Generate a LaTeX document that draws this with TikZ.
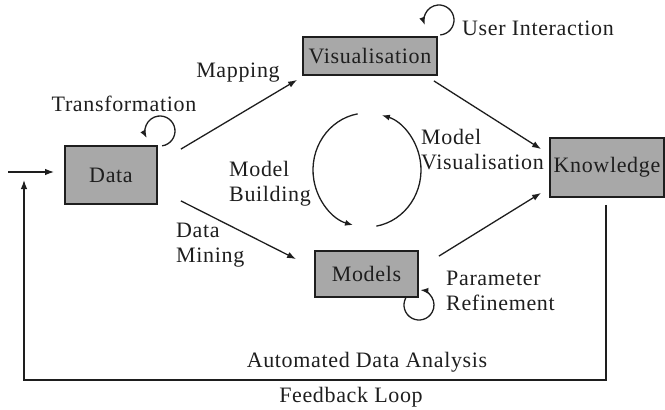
\documentclass[tikz,border=0pt]{standalone}
\usepackage{fontspec}
\setmainfont[LetterSpace=3]{Liberation Serif}
\usetikzlibrary{arrows.meta,calc}
\definecolor{boxfill}{RGB}{168,168,168}
\definecolor{ink}{RGB}{30,30,30}
\begin{document}
\begin{tikzpicture}[x=1pt,y=-1pt,
  every node/.style={font=\fontsize{22}{25}\selectfont, text=ink},
  stage/.style={draw=ink, line width=1.8pt, fill=boxfill, inner sep=0pt},
  lbl/.style={inner sep=0pt, align=left},
  arr/.style={draw=ink, line width=1.3pt, -{Latex[length=9pt,width=6.5pt]}},
  loop/.style={draw=ink, line width=1.3pt, -{Latex[length=8pt,width=6pt]}}]
\useasboundingbox (0,0) rectangle (665,410);

% process stages
\node[stage, minimum width=92pt, minimum height=58pt] (data) at (111,175) {Data};
\node[stage, minimum width=134pt, minimum height=38pt] (vis) at (370,56) {Visualisation};
\node[stage, minimum width=114pt, minimum height=59pt] (know) at (607,167.5) {Knowledge};
\node[stage, minimum width=103pt, minimum height=46pt] (models) at (366.5,274) {Models};

% main transitions
\draw[arr] ([xshift=23pt,yshift=-4pt]data.north east) -- ([xshift=-5pt,yshift=-4pt]vis.south west);
\draw[arr] ([xshift=-4pt,yshift=-5pt]vis.south east) -- ([xshift=-8pt,yshift=-12pt]know.north west);
\draw[arr] ([xshift=23pt,yshift=4pt]data.south east) -- ([xshift=-18pt,yshift=-9pt]models.north west);
\draw[arr] ([xshift=20pt,yshift=-6pt]models.north east) -- ([xshift=-8pt,yshift=5pt]know.south west);

% input and feedback loop
\coordinate (in0) at (8,172);
\draw[arr] (in0) -- ([xshift=-10pt,yshift=3pt]data.west);
\coordinate (fbc) at (24,380);
\coordinate (fbtip) at (24,180);
\draw[arr] ([xshift=-1pt,yshift=-7pt]know.south) |- (fbc) -- (fbtip);

% self loops
\coordinate (tl) at (160,131);
\draw[loop] (tl) ++(-82:15pt) arc[start angle=-82, end angle=208, radius=15pt];
\coordinate (ul) at (439,20);
\draw[loop] (ul) ++(-85:15pt) arc[start angle=-85, end angle=200, radius=15pt];
\coordinate (pl) at (419,305);
\draw[loop] (pl) ++(-208:15pt) arc[start angle=-208, end angle=85, radius=15pt];

% model building / model visualisation cycle
\coordinate (cyc) at (367,170);
\draw[loop] (cyc) ++(100:54pt and 57pt) arc[start angle=100, end angle=255, x radius=54pt, y radius=57pt];
\draw[loop] (cyc) ++(-80:54pt and 57pt) arc[start angle=-80, end angle=74, x radius=54pt, y radius=57pt];

% labels
\node[lbl] (ltrans) at (124,104) {Transformation};
\node[lbl] (lmap) at (238,73) {Mapping};
\node[lbl, anchor=west] (luser) at (462,28) {User Interaction};
\node[lbl, anchor=west] (lmvis) at (421,150) {Model\\Visualisation};
\node[lbl, anchor=west] (lmb) at (229,184) {Model\\Building};
\node[lbl, anchor=west] (ldm) at (176,245) {Data\\Mining};
\node[lbl, anchor=west] (lpr) at (446,291) {Parameter\\Refinement};
\node[lbl] (lauto) at (367,362) {Automated Data Analysis};
\node[lbl] (lfb) at (351,397) {Feedback Loop};
\end{tikzpicture}
\end{document}
